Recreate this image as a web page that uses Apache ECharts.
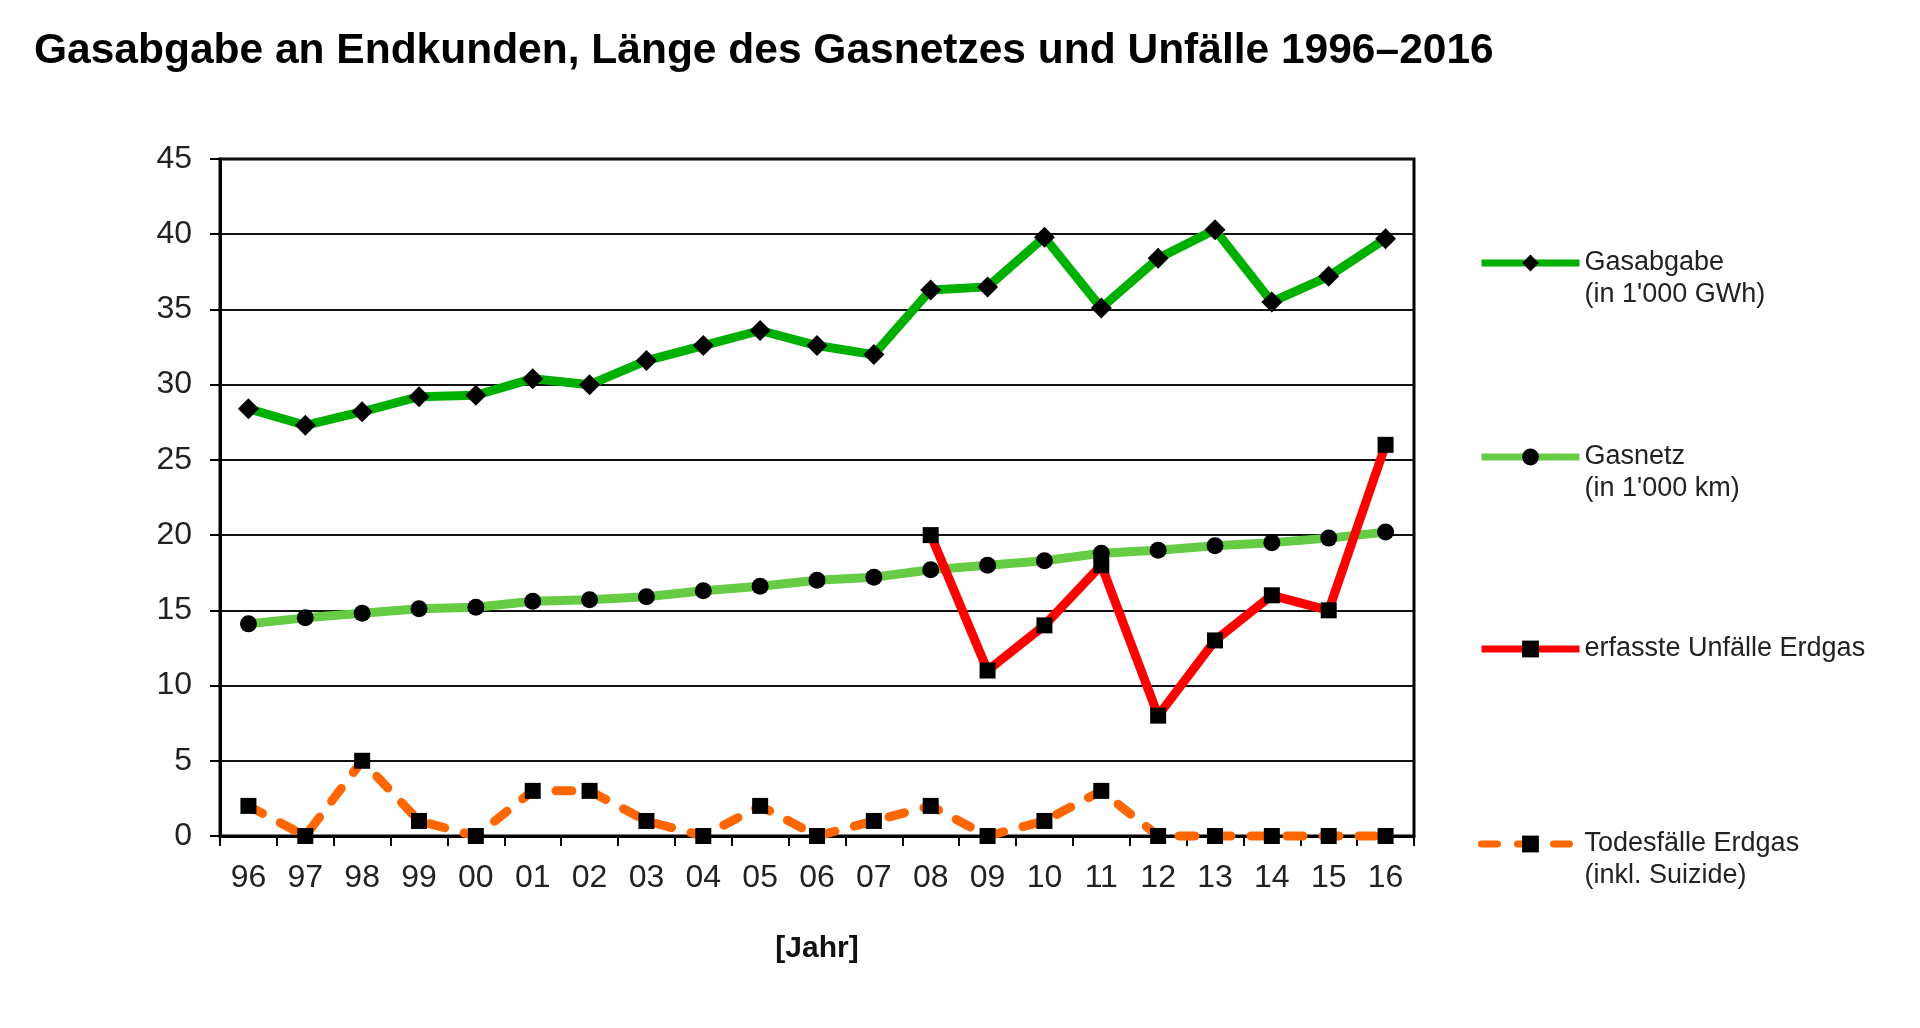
<!DOCTYPE html>
<html>
<head>
<meta charset="utf-8">
<script src="https://cdn.jsdelivr.net/npm/echarts@6/dist/echarts.min.js"></script>
<style>
html,body{margin:0;padding:0;background:#fff;}
#chart{width:1920px;height:1028px;}
</style>
</head>
<body>
<div id="chart"></div>
<script>
const years = ['96','97','98','99','00','01','02','03','04','05','06','07','08','09','10','11','12','13','14','15','16'];
const gasabgabe = [28.4, 27.3, 28.2, 29.2, 29.3, 30.4, 30.0, 31.6, 32.6, 33.6, 32.6, 32.0, 36.3, 36.5, 39.8, 35.1, 38.4, 40.3, 35.5, 37.2, 39.7];
const gasnetz = [14.1, 14.5, 14.8, 15.1, 15.2, 15.6, 15.7, 15.9, 16.3, 16.6, 17.0, 17.2, 17.7, 18.0, 18.3, 18.8, 19.0, 19.3, 19.5, 19.8, 20.2];
const unfaelle = [null, null, null, null, null, null, null, null, null, null, null, null, 20, 11, 14, 18, 8, 13, 16, 15, 26];
const todesfaelle = [2, 0, 5, 1, 0, 3, 3, 1, 0, 2, 0, 1, 2, 0, 1, 3, 0, 0, 0, 0, 0];
const yTicks = [0, 5, 10, 15, 20, 25, 30, 35, 40, 45];

const names = {
  g: 'Gasabgabe',
  n: 'Gasnetz',
  u: 'erfasste Unfälle Erdgas',
  t: 'Todesfälle Erdgas'
};
// first line of each two-line label sits on the legend icon (leading blank line balances it)
const legendText = {
  'Gasabgabe': "\nGasabgabe\n(in 1'000 GWh)",
  'Gasnetz': "\nGasnetz\n(in 1'000 km)",
  'erfasste Unfälle Erdgas': 'erfasste Unfälle Erdgas',
  'Todesfälle Erdgas': '\nTodesfälle Erdgas\n(inkl. Suizide)'
};

const FONT = '"Liberation Sans", Arial, Helvetica, sans-serif';

function mkLegend(name, top) {
  return {
    data: [name],
    left: 1478,
    top: top,
    orient: 'vertical',
    padding: 0,
    itemWidth: 98,
    itemHeight: 21,
    itemGap: 0,
    selectedMode: false,
    formatter: n => legendText[n],
    textStyle: {
      fontFamily: FONT,
      fontSize: 27,
      lineHeight: 32,
      color: '#222'
    },
    lineStyle: { width: 7 }
  };
}

const chart = echarts.init(document.getElementById('chart'), null, { renderer: 'canvas' });
chart.setOption({
  backgroundColor: '#fff',
  animation: false,
  title: {
    text: 'Gasabgabe an Endkunden, Länge des Gasnetzes und Unfälle 1996–2016',
    left: 34,
    top: 30,
    padding: 0,
    textStyle: { fontFamily: FONT, fontSize: 42.5, fontWeight: 'bold', color: '#000' }
  },
  legend: [
    mkLegend(names.g, 215),
    mkLegend(names.n, 409),
    mkLegend(names.u, 633),
    mkLegend(names.t, 796)
  ],
  grid: {
    left: 220, right: 506, top: 159, bottom: 192,
    show: true, borderColor: '#000', borderWidth: 3, backgroundColor: 'transparent'
  },
  xAxis: {
    type: 'category',
    data: years,
    boundaryGap: true,
    name: '[Jahr]',
    nameLocation: 'middle',
    nameGap: 98,
    nameTextStyle: { fontFamily: FONT, fontSize: 30, fontWeight: 'bold', color: '#111' },
    axisLine: { show: true, lineStyle: { color: '#000', width: 3 } },
    axisTick: { show: true, length: 10, alignWithLabel: false, lineStyle: { color: '#000', width: 2 } },
    axisLabel: { margin: 26, fontFamily: FONT, fontSize: 32, color: '#222', interval: 0 },
    splitLine: { show: false }
  },
  yAxis: {
    type: 'value',
    min: 0, max: 45, interval: 5,
    axisLine: { show: true, lineStyle: { color: '#000', width: 3 } },
    axisTick: { show: true, length: 10, lineStyle: { color: '#000', width: 2 } },
    axisLabel: {
      margin: 28, fontFamily: FONT, fontSize: 32, color: '#222',
      formatter: v => (yTicks.indexOf(v) >= 0 ? String(v) : '')
    },
    splitLine: { show: true, lineStyle: { color: '#111', width: 2 } }
  },
  series: [
    {
      name: names.g, type: 'line', data: gasabgabe,
      symbol: 'diamond', symbolSize: 21, clip: false,
      lineStyle: { color: '#00b000', width: 9 },
      itemStyle: { color: '#000', borderWidth: 0 },
      color: '#00b000', z: 2
    },
    {
      name: names.n, type: 'line', data: gasnetz,
      symbol: 'circle', symbolSize: 17, clip: false,
      lineStyle: { color: '#66cc44', width: 9 },
      itemStyle: { color: '#000', borderWidth: 0 },
      color: '#66cc44', z: 3
    },
    {
      name: names.u, type: 'line', data: unfaelle,
      symbol: 'rect', symbolSize: 16, clip: false, connectNulls: false,
      lineStyle: { color: '#ff0000', width: 9 },
      itemStyle: { color: '#000', borderWidth: 0 },
      color: '#ff0000', z: 4
    },
    {
      name: names.t, type: 'line', data: todesfaelle,
      symbol: 'rect', symbolSize: 16, clip: false,
      lineStyle: { color: '#ff6600', width: 9, type: [16, 20], cap: 'round' },
      itemStyle: { color: '#000', borderWidth: 0 },
      color: '#ff6600', z: 5
    }
  ]
});
</script>
</body>
</html>
